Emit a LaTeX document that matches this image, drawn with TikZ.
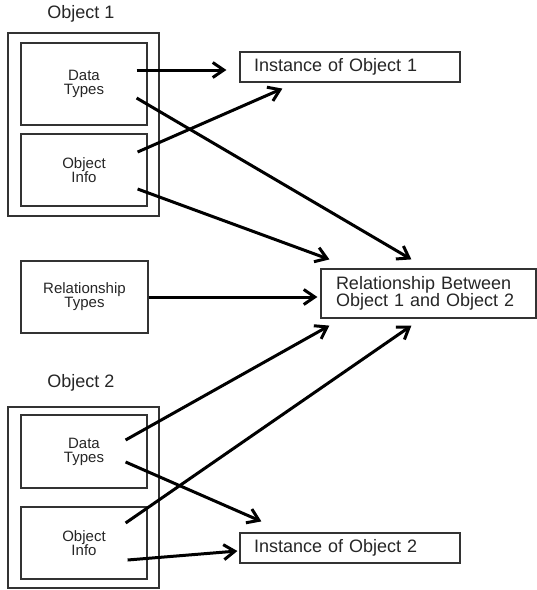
\documentclass[tikz,border=0pt]{standalone}
\usepackage{fontspec}
\setmainfont{Liberation Sans}
\usetikzlibrary{arrows.meta}

\begin{document}
\begin{tikzpicture}[x=1pt,y=-1pt]
\tikzstyle{every node}=[font=\fontsize{15}{14}\selectfont, inner sep=0pt, text=black!85]
\tikzstyle{box}=[draw=black!80, line width=1.2pt, align=center]
\tikzstyle{bigbox}=[box, font=\fontsize{18}{17}\selectfont, align=left]
\tikzstyle{title}=[font=\fontsize{18}{17}\selectfont]
\tikzstyle{link}=[line width=3pt, -{Straight Barb[length=11pt,width=15pt]}]
\useasboundingbox[fill=white] (0,0) rectangle (537,590);

\node[title] (t1) at (81,14) {Object 1};
\node[box, minimum width=151pt, minimum height=183pt] (obj1) at (83.5,124.5) {};
\node[box, minimum width=126pt, minimum height=82pt] (dt1) at (84,84) {Data\\Types};
\node[box, minimum width=126pt, minimum height=72pt] (oi1) at (84,170) {Object\\Info};

\node[box, minimum width=127pt, minimum height=72pt] (rt) at (84.5,297) {Relationship\\Types};

\node[title] (t2) at (81,383) {Object 2};
\node[box, minimum width=151pt, minimum height=181pt] (obj2) at (83.5,497.5) {};
\node[box, minimum width=126pt, minimum height=73pt] (dt2) at (84,451.5) {Data\\Types};
\node[box, minimum width=126pt, minimum height=72pt] (oi2) at (84,543) {Object\\Info};

\node[bigbox, text width=192pt, inner xsep=14pt, minimum height=30pt] (inst1) at (350,67) {Instance of Object 1};
\node[bigbox, text width=185pt, inner xsep=15pt, minimum height=49pt] (rel) at (428.5,293.5) {Relationship Between\\Object 1 and Object 2};
\node[bigbox, text width=192pt, inner xsep=14pt, minimum height=30pt] (inst2) at (350,548) {Instance of Object 2};

\draw[link] ([shift={(-11,-14)}]dt1.east) -- ([shift={(-13,3)}]inst1.west);
\draw[link] ([shift={(-11,14)}]dt1.east) -- ([shift={(91,-9)}]rel.north west);
\draw[link] ([shift={(-10,-18)}]oi1.east) -- ([shift={(43,6)}]inst1.south west);
\draw[link] ([shift={(-10,19)}]oi1.east) -- ([shift={(9,-9)}]rel.north west);
\draw[link, shorten >=3pt] (rt.east) -- (rt.east -| rel.west);
\draw[link] ([shift={(-22,-11.5)}]dt2.east) -- ([shift={(9,7)}]rel.south west);
\draw[link] ([shift={(-22,10.5)}]dt2.east) -- ([shift={(22,-11)}]inst2.north west);
\draw[link] ([shift={(-22,-20)}]oi2.east) -- ([shift={(91,7)}]rel.south west);
\draw[link] ([shift={(-20,17)}]oi2.east) -- ([shift={(-2,3)}]inst2.west);
\end{tikzpicture}
\end{document}
